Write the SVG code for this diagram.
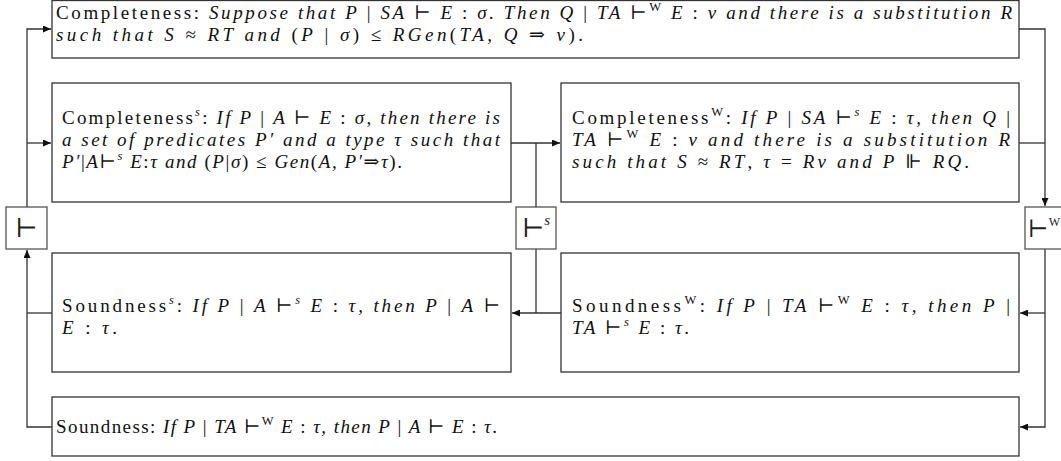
<svg xmlns="http://www.w3.org/2000/svg" width="1061" height="461" viewBox="0 0 1061 461">
<defs>
<style>
.t{font-family:"Liberation Serif","DejaVu Serif",serif;font-size:19px;fill:#111}
.i{font-style:italic}
.sup{font-size:12.5px}
.box{fill:#fff;stroke:#333;stroke-width:1.3}
.lbl{fill:#fff;stroke:#555;stroke-width:1.3}
.sym{font-family:"DejaVu Serif","Liberation Serif",serif;fill:#222}
.c{fill:none;stroke:#333;stroke-width:1.3}
</style>
<marker id="ah" markerUnits="userSpaceOnUse" markerWidth="9" markerHeight="7" refX="8" refY="3.5" orient="auto">
<path d="M0,0 L8,3.5 L0,7 z" fill="#111"/>
</marker>
</defs>
<rect width="1061" height="461" fill="#fff"/>

<g id="connectors">
<path class="c" d="M27,207 V29 H51" marker-end="url(#ah)"/>
<path class="c" d="M27,143 H51" marker-end="url(#ah)"/>
<path class="c" d="M52,427 H27 V250" marker-end="url(#ah)"/>
<path class="c" d="M52,313 H27"/>
<path class="c" d="M511,143 H560" marker-end="url(#ah)"/>
<path class="c" d="M536,143 V207"/>
<path class="c" d="M536,249 V313"/>
<path class="c" d="M561,313 H512" marker-end="url(#ah)"/>
<path class="c" d="M1019,29 H1045 V206" marker-end="url(#ah)"/>
<path class="c" d="M1019,143 H1045"/>
<path class="c" d="M1045,249 V427 H1020" marker-end="url(#ah)"/>
<path class="c" d="M1045,313 H1020" marker-end="url(#ah)"/>
</g>

<g id="completeness">
<rect class="box" x="52" y="0.5" width="967" height="57.5"/>
<text class="t" x="56" y="19" textLength="956" lengthAdjust="spacing">Completeness: <tspan class="i">Suppose that P</tspan> | <tspan class="i">SA</tspan> ⊢ <tspan class="i">E</tspan> : <tspan class="i">σ.  Then Q</tspan> | <tspan class="i">TA</tspan> ⊢<tspan class="sup" dy="-8">W</tspan><tspan dy="8"> </tspan><tspan class="i">E</tspan> : <tspan class="i">ν and there is a substitution R</tspan></text>
<text class="t" x="56" y="41" textLength="527" lengthAdjust="spacing"><tspan class="i">such that S</tspan> ≈ <tspan class="i">RT and </tspan>(<tspan class="i">P</tspan> | <tspan class="i">σ</tspan>) ≤ <tspan class="i">RGen</tspan>(<tspan class="i">TA, Q</tspan> ⇒ <tspan class="i">ν</tspan>).</text>
</g>

<g id="completeness-s">
<rect class="box" x="52" y="83" width="459" height="119"/>
<text class="t" x="62" y="124" textLength="438" lengthAdjust="spacing">Completeness<tspan class="sup i" dy="-8">s</tspan><tspan dy="8">: </tspan><tspan class="i">If P</tspan> | <tspan class="i">A</tspan> ⊢ <tspan class="i">E</tspan> : <tspan class="i">σ, then there is</tspan></text>
<text class="t i" x="62" y="146" textLength="438" lengthAdjust="spacing">a set of predicates P′ and a type τ such that</text>
<text class="t" x="62" y="168" textLength="340" lengthAdjust="spacing"><tspan class="i">P′</tspan>|<tspan class="i">A</tspan>⊢<tspan class="sup i" dy="-8">s</tspan><tspan dy="8"> </tspan><tspan class="i">E</tspan>:<tspan class="i">τ and </tspan>(<tspan class="i">P</tspan>|<tspan class="i">σ</tspan>) ≤ <tspan class="i">Gen</tspan>(<tspan class="i">A, P′</tspan>⇒<tspan class="i">τ</tspan>).</text>
</g>

<g id="completeness-w">
<rect class="box" x="561" y="83" width="458" height="119"/>
<text class="t" x="572" y="124" textLength="438" lengthAdjust="spacing">Completeness<tspan class="sup" dy="-8">W</tspan><tspan dy="8">: </tspan><tspan class="i">If P</tspan> | <tspan class="i">SA</tspan> ⊢<tspan class="sup i" dy="-8">s</tspan><tspan dy="8"> </tspan><tspan class="i">E</tspan> : <tspan class="i">τ, then Q</tspan> |</text>
<text class="t" x="572" y="146" textLength="438" lengthAdjust="spacing"><tspan class="i">TA</tspan> ⊢<tspan class="sup" dy="-8">W</tspan><tspan dy="8"> </tspan><tspan class="i">E</tspan> : <tspan class="i">ν and there is a substitution R</tspan></text>
<text class="t" x="572" y="168" textLength="397" lengthAdjust="spacing"><tspan class="i">such that S</tspan> ≈ <tspan class="i">RT</tspan>, <tspan class="i">τ</tspan> = <tspan class="i">Rν and P</tspan> ⊩ <tspan class="i">RQ</tspan>.</text>
</g>

<g id="soundness-s">
<rect class="box" x="52" y="253" width="459" height="119"/>
<text class="t" x="62" y="312" textLength="438" lengthAdjust="spacing">Soundness<tspan class="sup i" dy="-8">s</tspan><tspan dy="8">: </tspan><tspan class="i">If P</tspan> | <tspan class="i">A</tspan> ⊢<tspan class="sup i" dy="-8">s</tspan><tspan dy="8"> </tspan><tspan class="i">E</tspan> : <tspan class="i">τ, then P</tspan> | <tspan class="i">A</tspan> ⊢</text>
<text class="t" x="62" y="334" textLength="55" lengthAdjust="spacing"><tspan class="i">E</tspan> : <tspan class="i">τ</tspan>.</text>
</g>

<g id="soundness-w">
<rect class="box" x="561" y="253" width="458" height="119"/>
<text class="t" x="572" y="312" textLength="438" lengthAdjust="spacing">Soundness<tspan class="sup" dy="-8">W</tspan><tspan dy="8">: </tspan><tspan class="i">If P</tspan> | <tspan class="i">TA</tspan> ⊢<tspan class="sup" dy="-8">W</tspan><tspan dy="8"> </tspan><tspan class="i">E</tspan> : <tspan class="i">τ, then P</tspan> |</text>
<text class="t" x="572" y="334" textLength="117" lengthAdjust="spacing"><tspan class="i">TA</tspan> ⊢<tspan class="sup i" dy="-8">s</tspan><tspan dy="8"> </tspan><tspan class="i">E</tspan> : <tspan class="i">τ</tspan>.</text>
</g>

<g id="soundness">
<rect class="box" x="52" y="397" width="967" height="59"/>
<text class="t" x="56" y="433" textLength="441" lengthAdjust="spacing">Soundness: <tspan class="i">If P</tspan> | <tspan class="i">TA</tspan> ⊢<tspan class="sup" dy="-8">W</tspan><tspan dy="8"> </tspan><tspan class="i">E</tspan> : <tspan class="i">τ, then P</tspan> | <tspan class="i">A</tspan> ⊢ <tspan class="i">E</tspan> : <tspan class="i">τ</tspan>.</text>
</g>

<g id="label-vdash">
<rect class="lbl" x="6" y="207" width="41" height="42"/>
<text class="sym" x="26.5" y="237" font-size="26" text-anchor="middle">⊢</text>
</g>
<g id="label-vdash-s">
<rect class="lbl" x="516" y="207" width="40" height="42"/>
<text class="sym" x="522" y="237" font-size="26">⊢<tspan class="i" font-family="Liberation Serif" font-size="15" dy="-12">s</tspan></text>
</g>
<g id="label-vdash-w">
<rect class="lbl" x="1025" y="207" width="40" height="42"/>
<text class="sym" x="1028" y="237" font-size="24">⊢<tspan font-family="Liberation Serif" font-size="12" dy="-11">W</tspan></text>
</g>
</svg>
